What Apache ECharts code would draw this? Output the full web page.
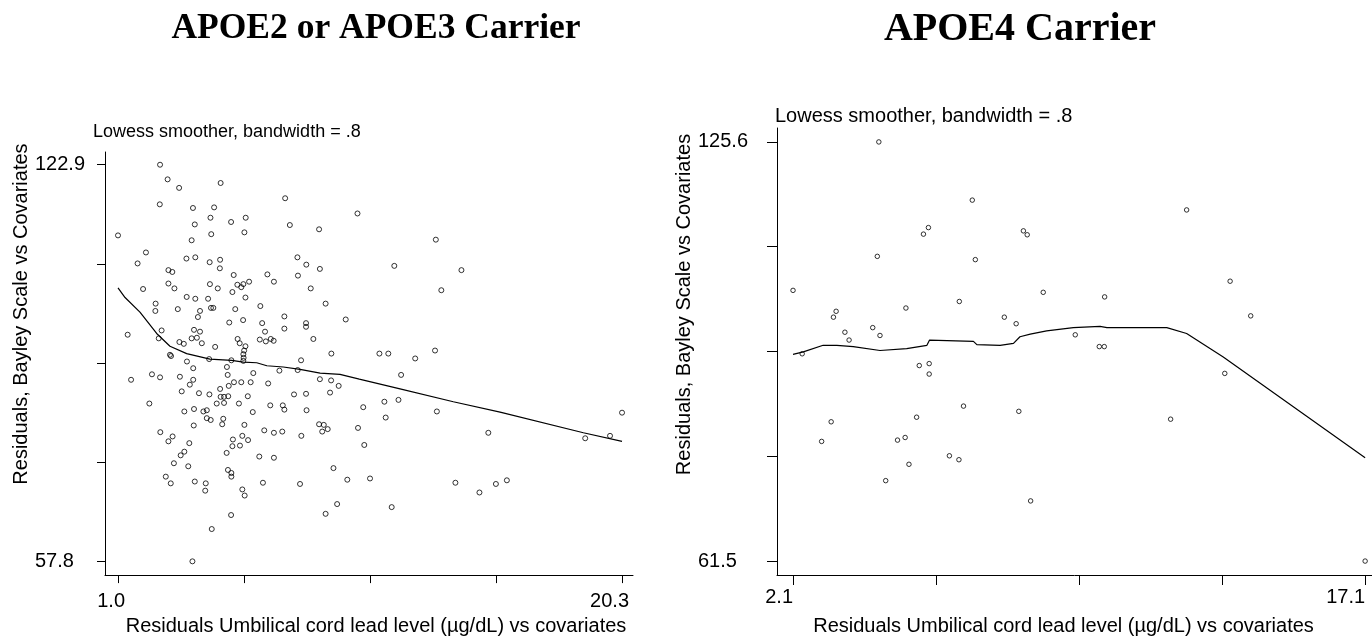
<!DOCTYPE html>
<html>
<head>
<meta charset="utf-8">
<script src="https://cdn.jsdelivr.net/npm/echarts@6/dist/echarts.min.js"></script>
<style>
html,body{margin:0;padding:0;background:#fff;}
#chart{width:1372px;height:641px;}
</style>
</head>
<body>
<div id="chart"></div>
<script>
// ---------- texts ----------
const leftTitle = 'APOE2 or APOE3 Carrier';
const rightTitle = 'APOE4 Carrier';
const subTitle = 'Lowess smoother, bandwidth = .8';
const yName = 'Residuals, Bayley Scale vs Covariates';
const xName = 'Residuals Umbilical cord lead level (µg/dL) vs covariates';

// ---------- tick values / labels ----------
const leftXTicks = [1.0, 5.825, 10.65, 15.475, 20.3];
const leftXLabels = [1.0, 20.3];
const leftYTicks = [57.8, 74.075, 90.35, 106.625, 122.9];
const leftYLabels = [57.8, 122.9];
const rightXTicks = [2.1, 5.85, 9.6, 13.35, 17.1];
const rightXLabels = [2.1, 17.1];
const rightYTicks = [61.5, 77.525, 93.55, 109.575, 125.6];
const rightYLabels = [61.5, 125.6];

// ---------- APOE2 / APOE3 carriers: [lead residual, Bayley residual] ----------
const apoe23Points = [
[2.61,122.9],[2.90,120.5],[3.34,119.1],[4.93,119.9],[2.60,116.4],[7.40,117.4],[3.87,115.8],[4.68,115.9],
[4.54,114.2],[5.89,114.2],[5.33,113.5],[3.94,113.1],[7.58,113.0],[8.70,112.3],[1.00,111.3],[4.57,111.5],
[5.84,111.8],[3.82,110.5],[2.07,108.5],[1.75,106.7],[3.62,107.5],[3.96,107.7],[4.51,106.9],[4.91,107.3],
[7.87,107.7],[8.21,106.5],[4.90,105.9],[8.73,105.8],[2.93,105.6],[3.08,105.3],[5.43,104.8],[6.72,104.9],
[7.89,104.7],[2.93,103.4],[3.16,102.6],[1.96,102.5],[4.52,103.3],[4.82,102.6],[5.57,103.2],[5.80,103.3],
[6.02,103.7],[6.97,103.7],[5.72,102.8],[8.38,102.6],[5.38,102.0],[3.63,101.2],[3.96,100.9],[4.45,100.9],
[5.88,101.1],[8.95,100.1],[2.44,100.1],[2.43,98.9],[3.29,99.2],[4.56,99.4],[4.65,99.4],[5.49,99.2],
[6.45,99.7],[4.14,98.9],[4.06,97.9],[7.37,98.0],[5.26,97.0],[5.79,97.4],[6.52,96.9],[8.20,96.9],
[8.20,96.3],[7.37,96.0],[2.67,95.7],[1.37,95.0],[3.91,95.8],[4.14,95.5],[6.63,95.5],[2.56,94.4],
[3.82,94.4],[4.02,94.5],[4.21,93.6],[3.35,93.8],[3.52,93.5],[4.72,93.0],[5.58,94.3],[5.66,93.6],
[6.43,94.2],[6.66,93.9],[6.85,94.3],[6.96,94.0],[8.48,94.3],[5.88,93.1],[5.83,92.4],[5.80,91.8],
[5.81,91.2],[2.99,91.7],[3.03,91.5],[9.17,91.9],
[4.49,91.0],[5.34,90.8],[5.80,90.7],[8.01,90.8],[1.50,87.6],[2.30,88.5],[2.61,88.0],[3.37,88.1],
[3.88,89.5],[3.64,90.6],[5.17,89.7],[5.20,88.4],[6.18,88.7],[7.18,89.1],[7.88,89.2],[8.73,87.7],
[9.16,87.5],[9.45,86.6],[3.88,87.6],[3.75,86.8],[3.44,85.7],[4.10,85.4],[4.50,85.2],[4.91,86.1],
[5.24,86.6],[5.44,87.2],[5.72,87.2],[6.08,87.2],[6.75,87.0],[4.93,84.8],[5.06,84.8],[5.22,84.9],
[4.78,83.7],[5.06,83.8],[5.97,84.9],[5.63,83.7],[7.74,85.2],[8.20,85.3],[9.12,85.5],[2.20,83.7],
[3.54,82.4],[3.91,82.8],[4.27,82.4],[4.40,82.6],[6.16,82.3],[6.83,83.4],[7.31,83.4],[7.37,82.7],
[8.22,82.6],[4.40,81.3],[4.55,81.0],[5.03,81.2],[4.99,80.3],[3.90,80.1],[5.84,80.2],[8.70,80.3],
[8.88,80.2],[8.82,79.1],[9.03,79.5],[2.62,79.0],[3.09,78.3],[2.93,77.5],[3.73,77.2],[5.40,77.8],
[5.38,76.7],[5.76,78.4],[5.98,77.7],[5.67,76.8],[6.60,79.3],[6.97,78.9],[7.29,79.1],[8.02,78.4],
[3.54,75.8],[3.40,75.2],[5.16,75.6],[3.14,73.9],[3.69,73.4],[5.21,72.8],[5.34,72.3],[5.34,71.7],
[6.41,75.0],[6.97,74.8],[9.25,73.1],[2.83,71.7],[3.02,70.6],[3.94,70.9],[4.36,70.6],[4.34,69.4],
[6.55,70.7],[7.97,70.5],[5.76,69.6],[5.85,68.6],[9.39,67.2],[8.95,65.6],[5.33,65.4],[4.59,63.1],
[3.85,57.8],
[10.17,114.9],[13.17,110.6],[11.58,106.3],[14.15,105.6],[13.38,102.3],[9.72,97.5],[11.01,91.9],[11.35,91.9],
[13.14,92.4],[12.38,91.1],[11.84,88.4],[10.39,83.1],[11.20,84.0],[11.74,84.3],[11.25,81.4],[13.21,82.4],
[10.19,79.7],[10.43,76.9],[15.18,78.9],[18.89,78.0],[19.84,78.4],[20.30,82.2],[9.78,71.2],[10.65,71.4],
[13.92,70.7],[14.84,69.1],[15.47,70.5],[15.89,71.1],[11.48,66.7]
];

const apoe23Lowess = [
[1.00,102.7],[1.27,101.1],[1.84,98.7],[2.48,95.2],[2.99,93.1],[3.63,91.9],[4.52,91.0],[5.35,90.8],
[5.80,90.5],[6.31,90.4],[6.70,89.9],[7.33,89.7],[7.97,89.3],[8.74,88.7],[9.50,88.5],[10.24,87.7],
[11.80,86.1],[13.84,84.0],[15.63,82.3],[18.82,78.9],[20.30,77.5]
];

// ---------- APOE4 carriers ----------
const apoe4Points = [
[4.35,125.6],[6.80,116.7],[5.52,111.5],[5.65,112.5],[4.31,108.1],[6.88,107.6],[8.14,112.0],[8.24,111.4],
[2.10,102.9],[6.46,101.2],[5.06,100.2],[3.16,98.8],[3.23,99.7],[7.64,98.8],[7.95,97.8],[3.46,96.5],
[3.57,95.3],[4.19,97.2],[4.38,96.0],[2.34,93.2],[12.42,115.2],[13.56,104.3],[8.66,102.6],[10.27,101.9],
[14.10,99.0],[9.50,96.1],[10.13,94.3],[10.26,94.3],[5.41,91.4],[5.67,91.7],[5.67,90.1],[6.57,85.2],
[8.02,84.4],[3.10,82.8],[2.85,79.8],[5.34,83.5],[4.84,80.0],[5.04,80.4],[6.20,77.6],[6.45,77.0],
[5.14,76.3],[4.53,73.8],[8.33,70.7],[13.42,90.2],[12.00,83.2],[17.10,61.5]
];

const apoe4Lowess = [
[2.10,93.1],[2.37,93.5],[2.89,94.5],[3.25,94.5],[3.68,94.3],[4.38,93.7],[5.08,94.0],[5.61,94.5],
[5.68,95.3],[6.83,95.1],[6.92,94.6],[7.53,94.5],[7.88,94.8],[8.05,95.8],[8.32,96.2],[8.75,96.7],
[9.45,97.2],[10.15,97.4],[10.33,97.2],[11.90,97.2],[12.42,96.3],[13.38,92.7],[17.10,77.3]
];

// ---------- chart ----------
const SANS = 'Liberation Sans, Arial, Helvetica, sans-serif';
const SERIF = 'Liberation Serif, Times New Roman, serif';
const black = '#000';
const fmt = v => Number(v).toFixed(1);

function xAxisCfg(grid, min, max, ticks, labels, labelShift, labelMargin, nameGap, namePad, tickLen) {
  return {
    gridIndex: grid, type: 'value', min: min, max: max,
    axisLine: {show: true, onZero: false, lineStyle: {color: black, width: 1}},
    axisTick: {show: true, length: tickLen, customValues: ticks, lineStyle: {color: black, width: 1}},
    axisLabel: {show: true, customValues: labels, formatter: fmt, color: black, fontFamily: SANS,
      fontSize: 20, align: 'right', margin: labelMargin, padding: [0, -labelShift, 0, 0]},
    splitLine: {show: false},
    name: xName, nameLocation: 'middle', nameGap: nameGap,
    nameTextStyle: {color: black, fontFamily: SANS, fontSize: 20, padding: namePad}
  };
}
function yAxisCfg(grid, min, max, ticks, labels, labelMargin, nameGap, namePad, tickLen) {
  return {
    gridIndex: grid, type: 'value', min: min, max: max,
    axisLine: {show: true, onZero: false, lineStyle: {color: black, width: 1}},
    axisTick: {show: true, length: tickLen, customValues: ticks, lineStyle: {color: black, width: 1}},
    axisLabel: {show: true, customValues: labels, formatter: fmt, color: black, fontFamily: SANS,
      fontSize: 20, align: 'left', margin: labelMargin},
    splitLine: {show: false},
    name: yName, nameLocation: 'middle', nameGap: nameGap,
    nameTextStyle: {color: black, fontFamily: SANS, fontSize: 20, padding: namePad}
  };
}

const chart = echarts.init(document.getElementById('chart'), null, {renderer: 'canvas'});
chart.setOption({
  animation: false,
  backgroundColor: '#fff',
  title: [
    {text: leftTitle, left: 376, top: 11, textAlign: 'center', padding: 0,
      textStyle: {fontFamily: SERIF, fontWeight: 'bold', fontSize: 35.5, color: black}},
    {text: rightTitle, left: 1020, top: 10, textAlign: 'center', padding: 0,
      textStyle: {fontFamily: SERIF, fontWeight: 'bold', fontSize: 40, color: black}},
    {text: subTitle, left: 93, top: 123, padding: 0,
      textStyle: {fontFamily: SANS, fontWeight: 'normal', fontSize: 18, color: black}},
    {text: subTitle, left: 775, top: 106, padding: 0,
      textStyle: {fontFamily: SANS, fontWeight: 'normal', fontSize: 20, color: black}}
  ],
  grid: [
    {left: 105, top: 152, width: 528, height: 431, containLabel: false},
    {left: 777, top: 128, width: 595, height: 450, containLabel: false}
  ],
  xAxis: [
    xAxisCfg(0, 0.502, 20.72, leftXTicks, leftXLabels, 7, 16, 40, [0, 0, 0, 14], 8),
    xAxisCfg(1, 1.68, 17.28, rightXTicks, rightXLabels, 0, 12, 41, [0, 22, 0, 0], 10)
  ],
  yAxis: [
    yAxisCfg(0, 55.54, 124.99, leftYTicks, leftYLabels, 70, 74, [0, 0, 0, 99], 8),
    yAxisCfg(1, 59.37, 127.73, rightYTicks, rightYLabels, 79, 80, [0, 0, 0, 94], 10)
  ],
  series: [
    {type: 'scatter', xAxisIndex: 0, yAxisIndex: 0, data: apoe23Points, symbol: 'circle', symbolSize: 5,
      itemStyle: {color: 'rgba(0,0,0,0)', borderColor: black, borderWidth: 1}, silent: true},
    {type: 'line', xAxisIndex: 0, yAxisIndex: 0, data: apoe23Lowess, showSymbol: false, symbol: 'none',
      lineStyle: {color: black, width: 1.2}, silent: true},
    {type: 'scatter', xAxisIndex: 1, yAxisIndex: 1, data: apoe4Points, symbol: 'circle', symbolSize: 4.5,
      itemStyle: {color: 'rgba(0,0,0,0)', borderColor: black, borderWidth: 1}, silent: true},
    {type: 'line', xAxisIndex: 1, yAxisIndex: 1, data: apoe4Lowess, showSymbol: false, symbol: 'none',
      lineStyle: {color: black, width: 1.2}, silent: true}
  ]
});
</script>
</body>
</html>
